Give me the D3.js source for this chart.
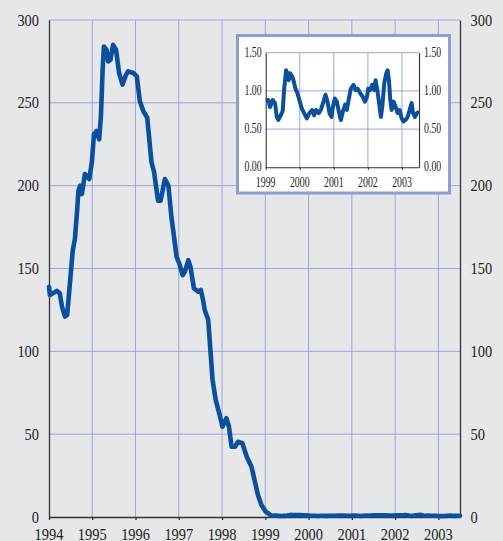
<!DOCTYPE html>
<html>
<head>
<meta charset="utf-8">
<script src="https://cdn.jsdelivr.net/npm/d3@7"></script>
<style>
  body { margin: 0; background: #e6e7e9; }
  svg { display: block; }
  .lbl { font-family: "Liberation Serif", "Times New Roman", serif; fill: #222; }
</style>
</head>
<body>
<div id="chart"></div>
<script>
// ------------------------------------------
//  Data
// ------------------------------------------
const mainYears = [1994.0, 1994.02, 1994.09, 1994.18, 1994.25, 1994.30, 1994.37, 1994.42, 1994.46, 1994.55,
    1994.60, 1994.65, 1994.68, 1994.72, 1994.76, 1994.83, 1994.93, 1994.99, 1995.04, 1995.10,
    1995.16, 1995.20, 1995.24, 1995.27, 1995.33, 1995.37, 1995.42, 1995.48, 1995.55, 1995.62,
    1995.70, 1995.78, 1995.83, 1995.95, 1996.03, 1996.10, 1996.18, 1996.27, 1996.37, 1996.43,
    1996.52, 1996.58, 1996.68, 1996.76, 1996.83, 1996.95, 1997.01, 1997.09, 1997.14, 1997.22,
    1997.27, 1997.35, 1997.45, 1997.51, 1997.56, 1997.60, 1997.68, 1997.73, 1997.78, 1997.85,
    1997.93, 1998.01, 1998.10, 1998.16, 1998.22, 1998.30, 1998.37, 1998.47, 1998.57, 1998.68,
    1998.76, 1998.83, 1998.91, 1999.01, 1999.10]
const mainValues = [139, 134, 135, 136.5, 135, 127, 121, 122, 134, 161,
    168, 185, 197, 200, 195, 207, 204, 214, 231, 233,
    228, 242, 270, 284, 282, 275, 276, 285, 282, 268,
    261, 267, 269, 268, 266, 251, 245, 241, 214, 208,
    191, 191, 204, 200, 181, 157, 153, 146, 148, 155,
    151, 138, 136, 137, 131, 125, 119, 101, 83, 71,
    63, 54.5, 59.6, 54.5, 42.4, 42.4, 45.4, 44.5, 36.4, 30.4,
    21.3, 13.3, 7.2, 3.2, 1.6]

const insetYears = [1999.0, 1999.078, 1999.127, 1999.206, 1999.275, 1999.324, 1999.373, 1999.441, 1999.5, 1999.539,
    1999.598, 1999.637, 1999.676, 1999.716, 1999.775, 1999.814, 1999.873, 1999.931, 1999.99, 2000.059,
    2000.127, 2000.206, 2000.284, 2000.363, 2000.422, 2000.48, 2000.559, 2000.618, 2000.696, 2000.755,
    2000.814, 2000.873, 2000.931, 2000.971, 2001.029, 2001.088, 2001.147, 2001.206, 2001.265, 2001.333,
    2001.382, 2001.441, 2001.5, 2001.578, 2001.637, 2001.696, 2001.775, 2001.853, 2001.912, 2001.971,
    2002.01, 2002.069, 2002.127, 2002.186, 2002.225, 2002.284, 2002.343, 2002.382, 2002.422, 2002.48,
    2002.539, 2002.578, 2002.618, 2002.657, 2002.696, 2002.755, 2002.814, 2002.873, 2002.931, 2002.99,
    2003.049, 2003.108, 2003.167, 2003.225, 2003.284, 2003.324, 2003.382, 2003.441, 2003.5]
const insetValues = [0.88, 0.88, 0.79, 0.88, 0.84, 0.66, 0.62, 0.68, 0.74, 1.01,
    1.27, 1.23, 1.14, 1.23, 1.19, 1.14, 1.03, 0.97, 0.88, 0.77,
    0.71, 0.64, 0.71, 0.75, 0.68, 0.75, 0.71, 0.75, 0.86, 0.95,
    0.86, 0.71, 0.66, 0.79, 0.90, 0.86, 0.73, 0.62, 0.73, 0.82,
    0.75, 0.90, 1.03, 1.08, 1.01, 1.03, 0.97, 0.92, 0.86, 0.92,
    1.03, 1.01, 1.08, 1.01, 1.14, 0.99, 0.79, 0.66, 0.79, 1.10,
    1.23, 1.27, 1.14, 0.88, 0.75, 0.86, 0.79, 0.71, 0.75, 0.64,
    0.60, 0.62, 0.66, 0.75, 0.84, 0.71, 0.66, 0.71, 0.73]

const mainYTicks = [0, 50, 100, 150, 200, 250, 300]
const mainXTicks = [1994, 1995, 1996, 1997, 1998, 1999, 2000, 2001, 2002, 2003]
const insetYTicks = [0, 0.5, 1.0, 1.5]
const insetXTicks = [1999, 2000, 2001, 2002, 2003]

// ------------------------------------------
//  Main chart
// ------------------------------------------
const W = 503, H = 541
const gridColor = "#9ba8d8"
const lineColor = "#0b4f9f"
const axisColor = "#333"

const svg = d3.select("#chart").append("svg").attr("width", W).attr("height", H)
svg.append("rect").attr("width", W).attr("height", H).attr("fill", "#e6e7e9")

const x = d3.scaleLinear().domain([1994, 2003.5]).range([49, 460])
const y = d3.scaleLinear().domain([0, 300]).range([517, 20])

// grid
svg.append("g").selectAll("line").data(mainYTicks.filter(d => d > 0)).join("line")
    .attr("x1", x.range()[0]).attr("x2", x.range()[1])
    .attr("y1", d => y(d)).attr("y2", d => y(d))
    .attr("stroke", gridColor).attr("stroke-width", 1)
svg.append("g").selectAll("line").data(mainXTicks.filter(d => d > 1994)).join("line")
    .attr("x1", d => x(d)).attr("x2", d => x(d))
    .attr("y1", y(0)).attr("y2", y(300))
    .attr("stroke", gridColor).attr("stroke-width", 1)

// axes
svg.append("g").attr("transform", `translate(${x(1994)},0)`)
    .call(d3.axisLeft(y).tickValues([]).tickSizeOuter(0))
    .call(g => g.select(".domain").attr("stroke", axisColor).attr("stroke-width", 1.3))
svg.append("g").attr("transform", `translate(${x(2003.5)},0)`)
    .call(d3.axisRight(y).tickValues([]).tickSizeOuter(0))
    .call(g => g.select(".domain").attr("stroke", axisColor).attr("stroke-width", 1.3))
svg.append("g").attr("transform", `translate(0,${y(0)})`)
    .call(d3.axisBottom(x).tickValues(mainXTicks).tickSize(3).tickSizeOuter(0).tickFormat(""))
    .call(g => g.select(".domain").attr("stroke", axisColor).attr("stroke-width", 1.3))
    .call(g => g.selectAll(".tick line").attr("stroke", axisColor).attr("stroke-width", 1.3))

// labels
const mainFont = 16, mainSX = 0.9
svg.append("g").selectAll("text").data(mainYTicks).join("text")
    .attr("class", "lbl").attr("font-size", mainFont).attr("text-anchor", "end")
    .attr("transform", d => `translate(39,${y(d) + 5.5}) scale(${mainSX},1)`)
    .text(d => d)
svg.append("g").selectAll("text").data(mainYTicks).join("text")
    .attr("class", "lbl").attr("font-size", mainFont).attr("text-anchor", "start")
    .attr("transform", d => `translate(470.5,${y(d) + 5.5}) scale(${mainSX},1)`)
    .text(d => d)
svg.append("g").selectAll("text").data(mainXTicks).join("text")
    .attr("class", "lbl").attr("font-size", mainFont).attr("text-anchor", "middle")
    .attr("transform", d => `translate(${x(d)},539.5) scale(${mainSX},1)`)
    .text(d => d)

// series (after 1999 it continues with the same data as the inset)
const mainData = mainYears.map((d, i) => [d, mainValues[i]])
    .concat(insetYears.map((d, i) => [d, insetValues[i]]).filter(d => d[0] > 1999.12))
svg.append("path").datum(mainData)
    .attr("fill", "none").attr("stroke", lineColor).attr("stroke-width", 4.6)
    .attr("stroke-linejoin", "round").attr("stroke-linecap", "round")
    .attr("d", d3.line().x(d => x(d[0])).y(d => y(d[1])))

// ------------------------------------------
//  Inset
// ------------------------------------------
const inset = svg.append("g")
inset.append("rect").attr("x", 237.5).attr("y", 35.5).attr("width", 212).attr("height", 157.5)
    .attr("fill", "#fff").attr("stroke", "#8e9dd4").attr("stroke-width", 3)

const ix = d3.scaleLinear().domain([1999, 2003.5]).range([265.7, 419])
const iy = d3.scaleLinear().domain([0, 1.5]).range([167.3, 52.7])

inset.append("g").selectAll("line").data(insetYTicks.filter(d => d > 0)).join("line")
    .attr("x1", ix.range()[0]).attr("x2", ix.range()[1])
    .attr("y1", d => iy(d)).attr("y2", d => iy(d))
    .attr("stroke", gridColor).attr("stroke-width", 1)
inset.append("g").selectAll("line").data(insetXTicks.filter(d => d > 1999)).join("line")
    .attr("x1", d => ix(d)).attr("x2", d => ix(d))
    .attr("y1", iy(0)).attr("y2", iy(1.5))
    .attr("stroke", gridColor).attr("stroke-width", 1)

inset.append("g").attr("transform", `translate(${ix(1999)},0)`)
    .call(d3.axisLeft(iy).tickValues([]).tickSizeOuter(0))
    .call(g => g.select(".domain").attr("stroke", axisColor).attr("stroke-width", 1.1))
inset.append("g").attr("transform", `translate(${ix(2003.5)},0)`)
    .call(d3.axisRight(iy).tickValues([]).tickSizeOuter(0))
    .call(g => g.select(".domain").attr("stroke", axisColor).attr("stroke-width", 1.1))
inset.append("g").attr("transform", `translate(0,${iy(0)})`)
    .call(d3.axisBottom(ix).tickValues(insetXTicks).tickSize(2.5).tickSizeOuter(0).tickFormat(""))
    .call(g => g.select(".domain").attr("stroke", axisColor).attr("stroke-width", 1.1))
    .call(g => g.selectAll(".tick line").attr("stroke", axisColor).attr("stroke-width", 1.1))

const insetFont = 14.5, insetSX = 0.68
const fmt = d3.format(".2f")
inset.append("g").selectAll("text").data(insetYTicks).join("text")
    .attr("class", "lbl").attr("font-size", insetFont).attr("text-anchor", "end")
    .attr("transform", d => `translate(261.7,${iy(d) + 4}) scale(${insetSX},1)`)
    .text(d => fmt(d))
inset.append("g").selectAll("text").data(insetYTicks).join("text")
    .attr("class", "lbl").attr("font-size", insetFont).attr("text-anchor", "start")
    .attr("transform", d => `translate(424,${iy(d) + 4}) scale(${insetSX},1)`)
    .text(d => fmt(d))
inset.append("g").selectAll("text").data(insetXTicks).join("text")
    .attr("class", "lbl").attr("font-size", insetFont).attr("text-anchor", "middle")
    .attr("transform", d => `translate(${ix(d)},187) scale(${insetSX},1)`)
    .text(d => d)

inset.append("path").datum(insetYears.map((d, i) => [d, insetValues[i]]))
    .attr("fill", "none").attr("stroke", lineColor).attr("stroke-width", 4)
    .attr("stroke-linejoin", "round")
    .attr("d", d3.line().x(d => ix(d[0])).y(d => iy(d[1])))
</script>
</body>
</html>
